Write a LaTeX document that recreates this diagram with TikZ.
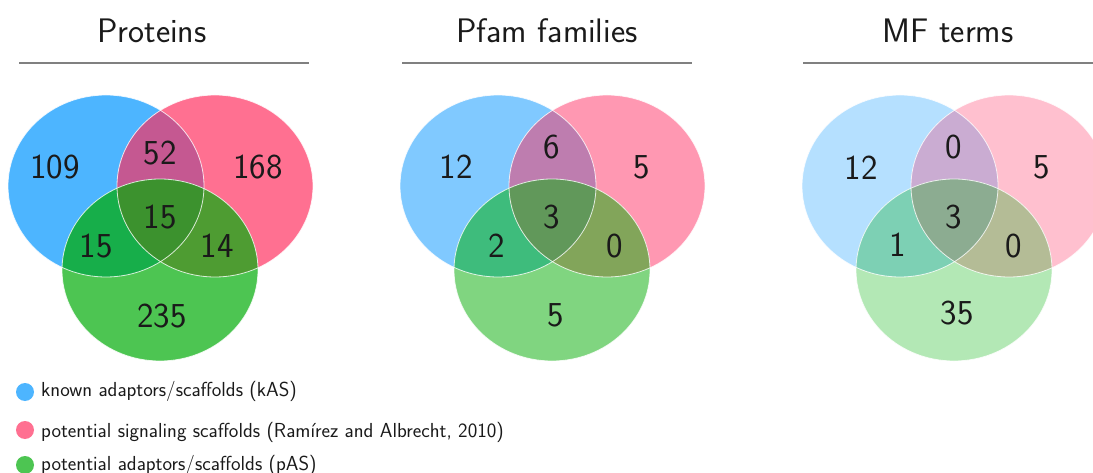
\documentclass[tikz,border=0pt]{standalone}
\usepackage{fontspec}
\begin{document}
\definecolor{bA}{HTML}{4DB5FF}\definecolor{rA}{HTML}{FF7091}\definecolor{gA}{HTML}{4DC552}
\definecolor{brA}{HTML}{C55891}\definecolor{bgA}{HTML}{17AE4A}\definecolor{rgA}{HTML}{4E9C32}\definecolor{brgA}{HTML}{3C922E}
\definecolor{bB}{HTML}{80C9FF}\definecolor{rB}{HTML}{FF98B2}\definecolor{gB}{HTML}{80D580}
\definecolor{brB}{HTML}{BE7DAF}\definecolor{bgB}{HTML}{3EBC7C}\definecolor{rgB}{HTML}{82A55A}\definecolor{brgB}{HTML}{61985A}
\definecolor{bC}{HTML}{B5E0FF}\definecolor{rC}{HTML}{FFC0CF}\definecolor{gC}{HTML}{B3E8B5}
\definecolor{brC}{HTML}{CAACD2}\definecolor{bgC}{HTML}{7DD0B4}\definecolor{rgC}{HTML}{B4BC96}\definecolor{brgC}{HTML}{8CAC91}
\definecolor{txt}{HTML}{1A1A1A}
\newcommand\bluep{(-54,186) ellipse [x radius=98pt, y radius=91pt]}
\newcommand\redp{(55,186) ellipse [x radius=98pt, y radius=91pt]}
\newcommand\greenp{(0,270) ellipse [x radius=98pt, y radius=91pt]}
\newcommand\vennset[2]{%
\begin{scope}[shift={(#1,0)}]
\fill[b#2] \bluep; \fill[r#2] \redp; \fill[g#2] \greenp;
\begin{scope}\clip \bluep; \fill[br#2] \redp; \fill[bg#2] \greenp; \end{scope}
\begin{scope}\clip \redp; \fill[rg#2] \greenp; \end{scope}
\begin{scope}\clip \bluep; \clip \redp; \fill[brg#2] \greenp; \end{scope}
\draw[outline] \bluep; \draw[outline] \redp; \draw[outline] \greenp;
\end{scope}}
\begin{tikzpicture}[x=1pt,y=-1pt,
  outline/.style={white, opacity=0.8, line width=0.8pt},
  num/.style={font=\sffamily\fontsize{35}{40}\selectfont, text=txt, inner sep=0pt},
  title/.style={font=\sffamily\fontsize{34}{40}\selectfont, text=txt, inner sep=0pt, anchor=base},
  rule/.style={draw=gray, line width=1.6pt},
  legtext/.style={font=\sffamily\fontsize{20.3}{24}\selectfont, text=txt, inner sep=0pt, anchor=base west},
  legdot/.style={circle, inner sep=0pt, minimum size=18pt}]
\useasboundingbox (0,0) rectangle (1093,473);
\fill[white] (0,0) rectangle (1093,473);
\vennset{160}{A}
\vennset{552}{B}
\vennset{954}{C}
% titles
\node[title] (t1) at (152,42.5) {Proteins};
\node[title] (t2) at (547,42.5) {Pfam families};
\node[title] (t3) at (948,42.5) {MF terms};
\draw[rule] (19,63) -- (309,63);
\draw[rule] (402,63) -- (692,63);
\draw[rule] (803,63) -- (1093,63);
% venn 1 numbers
\node[num] (a1) at (55,167) {109};
\node[num] (a2) at (160,153) {52};
\node[num] (a3) at (258,167) {168};
\node[num] (a4) at (160,217) {15};
\node[num] (a5) at (96,246) {15};
\node[num] (a6) at (217,246) {14};
\node[num] (a7) at (162,316) {235};
% venn 2 numbers
\node[num] (b1) at (456,167) {12};
\node[num] (b2) at (552,147) {6};
\node[num] (b3) at (642,167) {5};
\node[num] (b4) at (552,217) {3};
\node[num] (b5) at (497,246) {2};
\node[num] (b6) at (615,246) {0};
\node[num] (b7) at (556,315) {5};
% venn 3 numbers
\node[num] (c1) at (861,168) {12};
\node[num] (c2) at (954,147) {0};
\node[num] (c3) at (1042,167) {5};
\node[num] (c4) at (954,217) {3};
\node[num] (c5) at (898,245) {1};
\node[num] (c6) at (1014,246) {0};
\node[num] (c7) at (957,313) {35};
% legend
\node[legdot, fill=bA] (d1) at (25,392) {};
\node[legdot, fill=rA] (d2) at (25,430) {};
\node[legdot, fill=gA] (d3) at (25,465) {};
\node[legtext] (l1) at (41,396) {known adaptors/scaffolds (kAS)};
\node[legtext] (l2) at (41,437) {potential signaling scaffolds (Ramírez and Albrecht, 2010)};
\node[legtext] (l3) at (41,470) {potential adaptors/scaffolds (pAS)};
\end{tikzpicture}
\end{document}
